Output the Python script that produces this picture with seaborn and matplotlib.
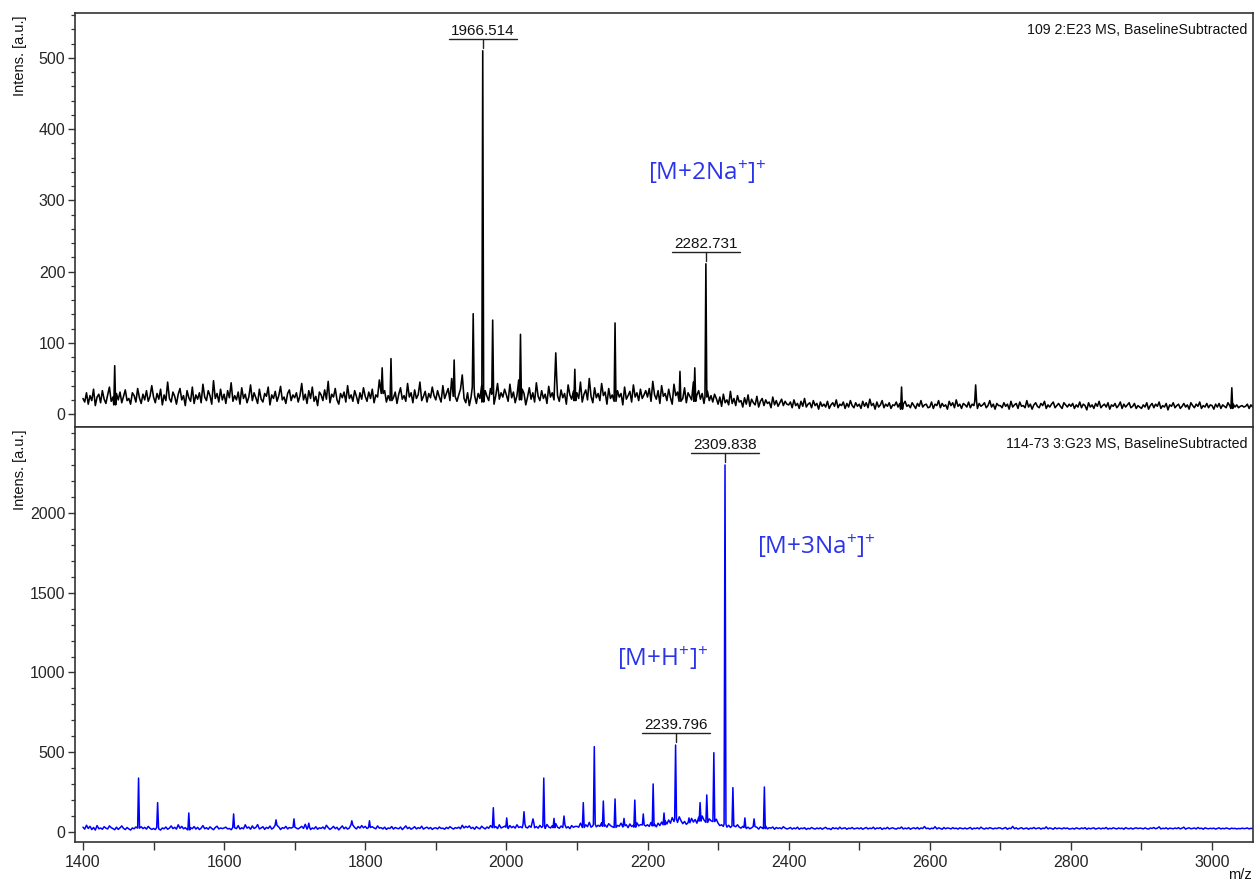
import numpy as np
import pandas as pd
import matplotlib
matplotlib.use("Agg")
import matplotlib.pyplot as plt
import seaborn as sns
from matplotlib.transforms import offset_copy
from matplotlib.ticker import MultipleLocator

# ---------------- data ----------------
MZ_START = 1400
MZ_STEP = 2.5

# baseline noise, top spectrum (109 2:E23), one value every 2.5 m/z from 1400
top_baseline = [
    22, 17, 30, 14, 26, 19, 35, 12, 24, 28, 16, 33, 21, 15, 27, 38, 18, 24, 13, 29, 20, 31, 16, 25, 34, 19, 22, 14, 30, 26, 17, 36, 23, 15, 28, 20, 33, 18, 25, 40,
    24, 16, 29, 21, 35, 13, 27, 19, 45, 22, 17, 31, 25, 14, 28, 36, 20, 26, 12, 33, 23, 18, 38, 15, 27, 21, 30, 16, 42, 24, 19, 33, 26, 14, 47, 22, 29, 17, 35, 20,
    28, 15, 33, 23, 44, 18, 26, 20, 31, 14, 37, 22, 28, 16, 24, 41, 19, 30, 23, 15, 35, 21, 17, 29, 25, 38, 13, 27, 22, 32, 18, 26, 39, 20, 24, 15, 29, 34, 19, 27,
    23, 30, 17, 26, 43, 20, 28, 15, 33, 22, 38, 18, 25, 12, 31, 27, 19, 34, 21, 46, 16, 28, 24, 36, 20, 14, 29, 23, 31, 17, 40, 22, 27, 18, 33, 25, 15, 30, 21, 37,
    25, 18, 31, 22, 35, 16, 27, 24, 48, 20, 29, 33, 17, 26, 40, 19, 23, 31, 15, 28, 37, 21, 26, 18, 43, 24, 30, 16, 34, 22, 27, 45, 19, 25, 32, 17, 29, 23, 38, 26,
    20, 33, 24, 17, 40, 22, 29, 36, 19, 50, 25, 31, 18, 27, 35, 55, 22, 16, 30, 12, 24, 38, 26, 15, 29, 22, 40, 17, 33, 25, 19, 36, 28, 14, 26, 43, 21, 30, 24, 35,
    27, 18, 42, 23, 31, 16, 26, 48, 20, 35, 29, 13, 24, 37, 21, 30, 17, 44, 25, 19, 33, 22, 28, 15, 39, 24, 30, 20, 51, 26, 18, 34, 23, 29, 14, 41, 27, 21, 32, 19,
    30, 22, 45, 17, 28, 34, 20, 50, 25, 16, 37, 23, 29, 19, 43, 26, 31, 14, 36, 22, 27, 47, 18, 33, 24, 29, 13, 38, 21, 26, 32, 17, 41, 24, 30, 19, 35, 22, 27, 33,
    24, 36, 18, 46, 27, 21, 33, 15, 40, 25, 29, 19, 35, 23, 14, 42, 26, 31, 18, 28, 22, 37, 16, 30, 25, 20, 45, 18, 27, 33, 21, 29, 15, 24, 32, 19, 26, 17, 28, 22,
    14, 24, 11, 28, 16, 20, 13, 32, 15, 22, 12, 26, 17, 19, 10, 23, 14, 27, 11, 21, 16, 13, 25, 10, 18, 22, 12, 20, 15, 17, 9, 24, 13, 19, 11, 16, 21, 12, 18, 14,
    13, 17, 9, 20, 12, 15, 8, 18, 11, 22, 10, 14, 16, 9, 19, 12, 15, 7, 17, 11, 14, 10, 18, 8, 13, 16, 11, 20, 9, 14, 12, 17, 8, 15, 10, 19, 12, 9, 16, 11,
    14, 8, 18, 11, 16, 9, 21, 12, 15, 7, 17, 10, 13, 19, 9, 14, 11, 16, 8, 13, 12, 17, 10, 15, 7, 14, 18, 11, 13, 9, 16, 12, 8, 15, 11, 19, 10, 13, 14, 9,
    10, 17, 8, 14, 12, 19, 9, 15, 11, 13, 7, 18, 12, 16, 9, 20, 11, 14, 8, 15, 13, 10, 17, 9, 14, 12, 18, 8, 15, 11, 13, 16, 9, 12, 19, 10, 14, 7, 15, 12,
    12, 9, 16, 11, 14, 7, 18, 10, 13, 15, 8, 17, 11, 12, 9, 19, 10, 14, 7, 13, 16, 11, 9, 15, 12, 18, 8, 13, 10, 14, 17, 9, 12, 15, 11, 8, 16, 13, 10, 14,
    11, 15, 8, 13, 10, 17, 9, 14, 12, 6, 16, 10, 13, 8, 15, 11, 18, 9, 12, 14, 10, 16, 7, 13, 11, 15, 9, 12, 17, 8, 14, 10, 13, 16, 9, 11, 15, 8, 12, 10,
    8, 13, 10, 16, 7, 12, 15, 9, 14, 11, 17, 8, 12, 10, 15, 6, 13, 11, 16, 9, 12, 14, 8, 11, 15, 10, 13, 7, 16, 12, 9, 14, 11, 17, 8, 12, 10, 15, 9, 13,
    12, 7, 14, 10, 15, 8, 13, 11, 9, 16, 12, 8, 14, 10, 13, 9, 11, 12, 10, 11, 14, 8, 13, 10, 15, 9, 12, 11, 16, 8, 13, 10, 12, 9, 14, 11, 10, 13, 9, 12,
]

# baseline noise, bottom spectrum (114-73 3:G23)
bot_baseline = [
    30, 18, 42, 22, 35, 15, 28, 12, 40, 20, 25, 17, 33, 24, 19, 38, 27, 21, 14, 30, 16, 26, 38, 22, 15, 28, 19, 12, 25, 20, 31, 17, 24, 33, 21, 29, 18, 35, 23, 16,
    22, 15, 28, 19, 12, 25, 20, 31, 17, 24, 38, 21, 29, 18, 45, 23, 35, 20, 27, 16, 13, 26, 21, 34, 18, 29, 15, 24, 40, 20, 27, 17, 32, 22, 14, 28, 36, 19, 25, 21,
    25, 30, 19, 22, 14, 27, 35, 21, 40, 18, 26, 20, 45, 24, 31, 17, 38, 22, 28, 46, 19, 25, 33, 16, 29, 22, 37, 18, 26, 42, 20, 31, 15, 27, 23, 35, 19, 28, 24, 39,
    30, 24, 19, 27, 35, 22, 48, 18, 28, 15, 25, 20, 33, 17, 26, 22, 31, 19, 42, 27, 16, 24, 35, 21, 29, 13, 26, 38, 20, 30, 18, 25, 44, 22, 28, 19, 34, 24, 40, 26,
    35, 22, 28, 18, 33, 25, 20, 38, 24, 27, 19, 30, 16, 25, 22, 34, 18, 28, 23, 20, 31, 15, 26, 38, 21, 29, 17, 24, 33, 19, 27, 22, 36, 18, 25, 30, 20, 28, 16, 24,
    26, 19, 31, 22, 24, 17, 29, 21, 33, 25, 18, 27, 23, 30, 20, 42, 25, 35, 28, 38, 22, 29, 17, 33, 24, 20, 36, 26, 19, 31, 23, 40, 18, 27, 34, 21, 45, 25, 30, 36,
    30, 22, 40, 27, 35, 24, 45, 28, 33, 26, 50, 30, 25, 38, 29, 55, 26, 34, 24, 41, 28, 36, 22, 47, 31, 25, 39, 27, 52, 30, 23, 37, 28, 44, 25, 33, 21, 40, 29, 35,
    35, 30, 55, 40, 28, 45, 33, 60, 30, 38, 48, 32, 42, 35, 58, 36, 44, 30, 52, 40, 33, 47, 28, 41, 36, 55, 31, 39, 45, 27, 50, 34, 42, 30, 57, 38, 46, 32, 44, 37,
    45, 35, 60, 38, 48, 32, 55, 40, 62, 45, 70, 50, 75, 55, 90, 65, 80, 60, 95, 70, 52, 66, 48, 72, 58, 85, 62, 78, 55, 92, 68, 100, 75, 88, 60, 82, 70, 95, 65, 80,
    55, 40, 45, 35, 50, 30, 42, 28, 38, 25, 33, 45, 30, 24, 35, 28, 22, 30, 20, 26, 34, 23, 29, 18, 32, 25, 21, 36, 19, 27, 24, 31, 17, 28, 22, 26, 20, 33, 24, 19,
    22, 28, 18, 25, 20, 30, 17, 24, 21, 27, 16, 23, 19, 28, 22, 18, 25, 20, 26, 17, 24, 29, 19, 22, 15, 27, 21, 25, 18, 30, 20, 23, 26, 17, 24, 21, 28, 19, 22, 25,
    20, 26, 17, 23, 28, 19, 24, 21, 30, 18, 25, 22, 27, 16, 24, 20, 29, 19, 23, 26, 21, 18, 25, 22, 31, 19, 24, 20, 27, 17, 23, 26, 20, 28, 18, 25, 22, 34, 21, 24,
    18, 24, 21, 33, 19, 26, 22, 17, 28, 20, 25, 23, 19, 27, 21, 24, 18, 26, 22, 20, 25, 19, 23, 28, 17, 24, 21, 26, 19, 30, 22, 18, 25, 20, 27, 23, 19, 24, 21, 26,
    25, 19, 23, 28, 17, 24, 21, 35, 20, 26, 18, 23, 27, 19, 22, 25, 17, 24, 21, 28, 20, 23, 26, 18, 24, 21, 32, 19, 25, 22, 17, 27, 20, 24, 23, 19, 26, 21, 25, 18,
    20, 23, 18, 26, 22, 19, 25, 21, 27, 17, 24, 20, 23, 26, 18, 22, 25, 19, 24, 21, 28, 18, 23, 20, 26, 22, 19, 25, 21, 24, 17, 27, 22, 20, 25, 18, 23, 26, 21, 24,
    23, 19, 26, 21, 18, 25, 22, 28, 20, 24, 32, 19, 23, 21, 26, 18, 24, 22, 20, 25, 21, 27, 19, 24, 30, 18, 23, 26, 20, 22, 25, 19, 28, 21, 24, 17, 26, 22, 20, 23,
    21, 24, 18, 22, 26, 19, 23, 20, 25, 22, 18, 24, 21, 23, 19, 22, 20, 24, 21, 22, 25, 19, 23, 21, 24, 18, 22, 26, 20, 23, 19, 25, 21, 22, 24, 20, 23, 21, 22, 21,
]

# peaks (m/z, intensity)
top_peak_mz = [1445, 1824, 1836.5, 1926, 1953, 1966.514, 1980.6, 2020, 2070, 2097,
               2154, 2246, 2267, 2282.731, 2560, 2665, 3028]
top_peak_int = [68, 65, 78, 76, 141, 510, 132, 112, 86, 63,
                128, 60, 65, 211, 38, 41, 37]

bot_peak_mz = [1478.8, 1505.8, 1550, 1613.5, 1673.6, 1699, 1720, 1781, 1806,
               1981.5, 2000.5, 2025, 2037.7, 2053, 2067.5, 2081.7, 2109, 2124.6,
               2137.4, 2154, 2166.7, 2182, 2194, 2208, 2223.4, 2239.796, 2258.8,
               2274.5, 2284, 2294, 2309.838, 2321, 2338, 2351, 2365.6]
bot_peak_int = [338, 184, 119, 113, 76, 82, 55, 70, 70,
                152, 88, 127, 82, 338, 85, 100, 184, 535,
                194, 207, 85, 200, 113, 301, 119, 545, 88,
                184, 232, 497, 2301, 278, 88, 82, 282]

# labelled peaks
top_label_mz = [1966.514, 2282.731]
top_label_int = [510, 211]
bot_label_mz = [2239.796, 2309.838]
bot_label_int = [545, 2301]

top_title = "109 2:E23 MS, BaselineSubtracted"
bot_title = "114-73 3:G23 MS, BaselineSubtracted"
x_ticks = [1400, 1600, 1800, 2000, 2200, 2400, 2600, 2800, 3000]
top_yticks = [0, 100, 200, 300, 400, 500]
bot_yticks = [0, 500, 1000, 1500, 2000]

FLANK = 1.3


def build(baseline, pk_mz, pk_int):
    base = np.asarray(baseline, dtype=float)
    grid = MZ_START + MZ_STEP * np.arange(len(base))
    keep = np.ones(len(grid), dtype=bool)
    for m in pk_mz:
        keep &= np.abs(grid - m) > FLANK + 0.2
    xs = list(grid[keep])
    ys = list(base[keep])
    for m, h in zip(pk_mz, pk_int):
        i = int(round((m - MZ_START) / MZ_STEP))
        i = min(max(i, 0), len(base) - 1)
        b = base[i]
        xs += [m - FLANK, m, m + FLANK]
        ys += [b, h, b]
    df = pd.DataFrame({"mz": xs, "intensity": ys}).sort_values("mz")
    return df.reset_index(drop=True)


top_df = build(top_baseline, top_peak_mz, top_peak_int)
bot_df = build(bot_baseline, bot_peak_mz, bot_peak_int)

# ---------------- style ----------------
sns.set_style("ticks")
plt.rcParams["font.family"] = ["Liberation Sans", "DejaVu Sans"]
plt.rcParams["mathtext.fontset"] = "custom"
plt.rcParams["mathtext.rm"] = "Open Sans"
plt.rcParams["mathtext.default"] = "rm"

fig = plt.figure(figsize=(12.56, 8.84), dpi=100)
ax1 = fig.add_axes([0.0597, 0.517, 0.9379, 0.4683])
ax2 = fig.add_axes([0.0597, 0.0475, 0.9379, 0.4695])

sns.lineplot(data=top_df, x="mz", y="intensity", ax=ax1, color="black",
             lw=1.15, sort=False, estimator=None)
sns.lineplot(data=bot_df, x="mz", y="intensity", ax=ax2, color="#0000ff",
             lw=1.1, sort=False, estimator=None)

XMIN, XMAX = 1388.7, 3058
TOP_YLIM = (-18, 563)
BOT_YLIM = (-63, 2539)

for ax in (ax1, ax2):
    ax.set_xlabel("")
    ax.set_ylabel("")
    for s in ax.spines.values():
        s.set_color("#333333")
        s.set_linewidth(1.2)
    ax.tick_params(axis="y", which="major", direction="out", length=5,
                   width=1.0, color="#333333", labelsize=11.5, pad=2)
    ax.tick_params(axis="y", which="minor", direction="out", length=3,
                   width=0.9, color="#333333")

ax1.set_yticks(top_yticks)
ax1.yaxis.set_minor_locator(MultipleLocator(20))
ax2.set_yticks(bot_yticks)
ax2.yaxis.set_minor_locator(MultipleLocator(100))

ax1.tick_params(axis="x", which="both", bottom=False, labelbottom=False)
ax2.set_xticks(x_ticks)
ax2.xaxis.set_minor_locator(MultipleLocator(100))
ax2.tick_params(axis="x", which="major", direction="out", length=6,
                width=1.0, color="#333333", labelsize=11.5, pad=3)
ax2.tick_params(axis="x", which="minor", direction="out", length=6,
                width=1.0, color="#333333")

ax1.set_xlim(XMIN, XMAX)
ax2.set_xlim(XMIN, XMAX)
ax1.set_ylim(*TOP_YLIM)
ax2.set_ylim(*BOT_YLIM)

# titles in the upper right
ax1.text(0.995, 0.959, top_title, transform=ax1.transAxes, ha="right",
         va="center", fontsize=10.2, color="#111111")
ax2.text(0.995, 0.959, bot_title, transform=ax2.transAxes, ha="right",
         va="center", fontsize=10.2, color="#111111")

fig.text(0.016, 0.983, "Intens. [a.u.]", rotation=90, ha="center", va="top",
         fontsize=10.5, color="#111111")
fig.text(0.016, 0.5136, "Intens. [a.u.]", rotation=90, ha="center", va="top",
         fontsize=10.5, color="#111111")
fig.text(0.9875, 0.0102, "m/z", ha="center", va="center", fontsize=10.5,
         color="#111111")


def draw_label(ax, mz, h):
    to_pts = 72.0 / fig.dpi
    inv = ax.transData.inverted()

    def shifted(dx, dy):
        t = offset_copy(ax.transData, fig=fig, x=dx, y=dy, units="dots")
        return inv.transform(t.transform((mz, h)))

    (lx, ly) = shifted(-34, 12)
    (rx, ry) = shifted(34, 12)
    (tx, ty) = shifted(0, 12)
    (bx, by) = shifted(0, 3)
    ax.plot([lx, rx], [ly, ry], color="#222222", lw=1.0)
    ax.plot([tx, bx], [ty, by], color="#222222", lw=1.0)
    ax.annotate(f"{mz:.3f}", xy=(mz, h), xycoords="data",
                xytext=(0, 13 * to_pts), textcoords="offset points",
                ha="center", va="bottom", fontsize=11, color="#111111")


fig.canvas.draw()
for m, h in zip(top_label_mz, top_label_int):
    draw_label(ax1, m, h)
for m, h in zip(bot_label_mz, bot_label_int):
    draw_label(ax2, m, h)

blue = "#2b35e8"
ax1.text(2200.7, 339, r"[M+2Na$^{+}$]$^{+}$", color=blue, fontsize=17.5,
         family="Open Sans", ha="left", va="center")
ax2.text(2355, 1793, r"[M+3Na$^{+}$]$^{+}$", color=blue, fontsize=17.5,
         family="Open Sans", ha="left", va="center")
ax2.text(2157, 1091, r"[M+H$^{+}$]$^{+}$", color=blue, fontsize=17.5,
         family="Open Sans", ha="left", va="center")

ax1.set_xlim(XMIN, XMAX)
ax2.set_xlim(XMIN, XMAX)
ax1.set_ylim(*TOP_YLIM)
ax2.set_ylim(*BOT_YLIM)

fig.savefig("out.png", dpi=100)
